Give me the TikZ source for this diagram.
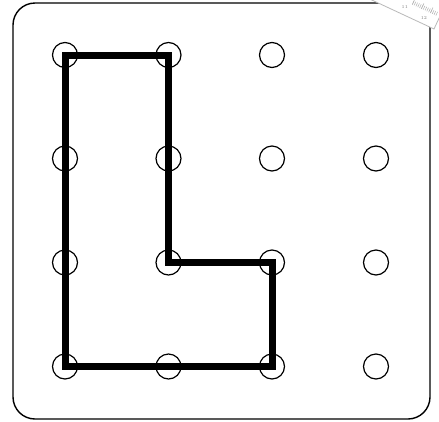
\documentclass[tikz,border=0pt]{standalone}
\begin{document}
\begin{tikzpicture}[x=1pt,y=-1pt,
  peg/.style={circle,draw=black,line width=1.2pt,minimum size=25pt,inner sep=0pt},
  band/.style={line width=7pt,line join=miter},
  board/.style={draw=black,line width=1.4pt,rounded corners=22pt},
  rulerline/.style={draw=gray!55,line width=0.8pt},
  tick/.style={draw=gray!60,line width=0.5pt},
  rulernum/.style={text=gray,font=\fontsize{4.5}{4.5}\selectfont,inner sep=0pt}]
\useasboundingbox (0,0) rectangle (439,421);
\fill[white] (0,0) rectangle (439,421);
\draw[board] (13,3) rectangle (430,419);
% pegs
\foreach \c/\x in {1/65,2/168.5,3/272,4/376}{
  \foreach \r/\y in {1/55,2/158.5,3/262.5,4/366.5}{
    \node[peg] (p\c\r) at (\x,\y) {};
  }
}
% rubber band
\draw[band] (p11.center) -- (p21.center) -- (p23.center) -- (p33.center) -- (p34.center) -- (p14.center) -- cycle;
% ruler in the corner
\begin{scope}[shift={(434,29)},rotate=-25]
  \fill[white] (-90,-30) rectangle (0,0);
  \draw[rulerline] (-90,0) -- (0,0) -- (0,-30);
  \foreach \t in {-30,-28,...,-4}{\draw[tick] (\t,-17) -- (\t,-13);}
  \foreach \t in {-30,-20,-10}{\draw[tick] (\t,-19) -- (\t,-13);}
  \node[rulernum] (r1) at (-36,-8) {11};
  \node[rulernum] (r2) at (-14,-6) {12};
\end{scope}
\end{tikzpicture}
\end{document}
